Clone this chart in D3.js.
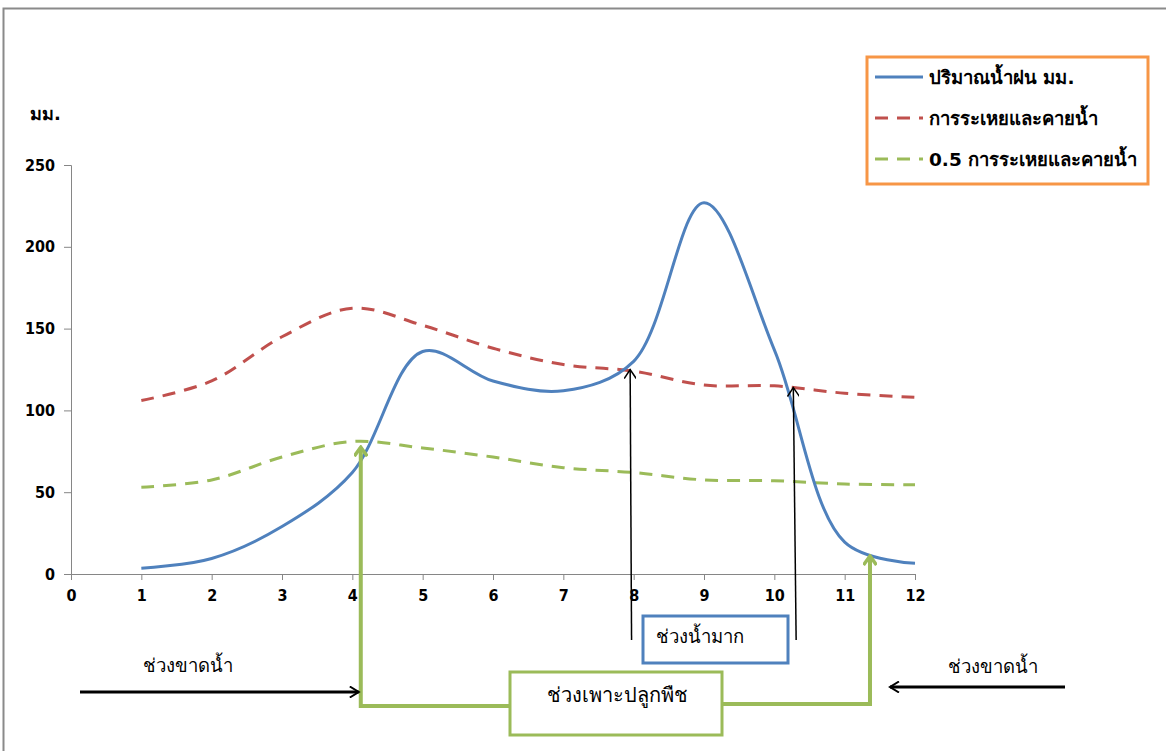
<!DOCTYPE html>
<html>
<head>
<meta charset="utf-8">
<script src="https://cdn.jsdelivr.net/npm/d3@7"></script>
<style>
  body { margin: 0; background: #fff; }
  svg { display: block; font-family: Tahoma, "DejaVu Sans", "Noto Sans", sans-serif; }
  .tick text { font-family: "DejaVu Sans Condensed", "DejaVu Sans", sans-serif; font-size: 16px; font-weight: bold; }
</style>
</head>
<body>
<svg id="chart" width="1166" height="751"></svg>
<script>
// months 1..12
const months = [1, 2, 3, 4, 5, 6, 7, 8, 9, 10, 11, 12];
const rain = [3.5, 9.5, 29, 62, 136, 118, 112, 130, 227, 137, 19.5, 6.5];
const evapo = [106, 118, 145, 162.5, 152, 138, 128, 124, 115.5, 115, 110.5, 108];
const halfEvapo = [53, 57.5, 71.5, 81, 77, 71.5, 65, 62, 57.5, 57, 55, 54.5];
const xTicks = [0, 1, 2, 3, 4, 5, 6, 7, 8, 9, 10, 11, 12];
const yTicks = [0, 50, 100, 150, 200, 250];
const seriesNames = ['ปริมาณน้ำฝน มม.', 'การระเหยและคายน้ำ', '0.5 การระเหยและคายน้ำ'];

const svg = d3.select('#chart');

const x = d3.scaleLinear().domain([0, 12]).range([71, 915]);
const y = d3.scaleLinear().domain([0, 250]).range([574, 165]);

// outer frame
svg.append('rect')
    .attr('x', 3.5).attr('y', 8.5)
    .attr('width', 1200).attr('height', 800)
    .attr('fill', 'none')
    .attr('stroke', '#8a8a8a')
    .attr('stroke-width', 2);

const defs = svg.append('defs');
defs.append('marker')
    .attr('id', 'headBlack')
    .attr('viewBox', '-10 -6 12 12')
    .attr('refX', 0).attr('refY', 0)
    .attr('markerWidth', 12).attr('markerHeight', 12)
    .attr('markerUnits', 'userSpaceOnUse')
    .attr('orient', 'auto')
    .append('path')
    .attr('d', 'M-9,-5.5 L0,0 L-9,5.5')
    .attr('fill', 'none').attr('stroke', '#000').attr('stroke-width', 2);
defs.append('marker')
    .attr('id', 'headThin')
    .attr('viewBox', '-10 -6 12 12')
    .attr('refX', 0).attr('refY', 0)
    .attr('markerWidth', 12).attr('markerHeight', 12)
    .attr('markerUnits', 'userSpaceOnUse')
    .attr('orient', 'auto')
    .append('path')
    .attr('d', 'M-9,-6 L0,0 L-9,6')
    .attr('fill', 'none').attr('stroke', '#000').attr('stroke-width', 1.5);
defs.append('marker')
    .attr('id', 'headGreen')
    .attr('viewBox', '-10 -7 12 14')
    .attr('refX', 0).attr('refY', 0)
    .attr('markerWidth', 12).attr('markerHeight', 14)
    .attr('markerUnits', 'userSpaceOnUse')
    .attr('orient', 'auto')
    .append('path')
    .attr('d', 'M-9,-6.5 L0,0 L-9,6.5')
    .attr('fill', 'none').attr('stroke', '#9BBB59').attr('stroke-width', 3.5);

// axes
const yAxis = d3.axisLeft(y).tickValues(yTicks).tickSize(7).tickPadding(9);
const gy = svg.append('g').attr('transform', `translate(${x(0)},0)`).call(yAxis);
const xAxis = d3.axisBottom(x).tickValues(xTicks).tickSize(6).tickPadding(10);
const gx = svg.append('g').attr('transform', `translate(0,${y(0)})`).call(xAxis);
[gx, gy].forEach(g => {
    g.attr('font-size', null).attr('font-family', null);
    g.select('.domain').attr('stroke', '#868686');
    g.selectAll('.tick line').attr('stroke', '#868686');
    g.selectAll('.tick text').attr('fill', '#000');
});

svg.append('text')
    .attr('x', 30).attr('y', 120)
    .style('font-size', '18px').style('font-weight', 'bold')
    .text('มม.');

// lines
const line = d3.line()
    .x((d, i) => x(months[i]))
    .y(d => y(d))
    .curve(d3.curveCatmullRom.alpha(0.5));

svg.append('path').datum(evapo)
    .attr('d', line).attr('fill', 'none')
    .attr('stroke', '#C0504D').attr('stroke-width', 3)
    .attr('stroke-dasharray', '13,9');
svg.append('path').datum(halfEvapo)
    .attr('d', line).attr('fill', 'none')
    .attr('stroke', '#9BBB59').attr('stroke-width', 3)
    .attr('stroke-dasharray', '13,9');
svg.append('path').datum(rain)
    .attr('d', line).attr('fill', 'none')
    .attr('stroke', '#4F81BD').attr('stroke-width', 3);

// legend
const legend = svg.append('g');
legend.append('rect')
    .attr('x', 867).attr('y', 57)
    .attr('width', 281).attr('height', 127)
    .attr('fill', '#fff').attr('stroke', '#F79646').attr('stroke-width', 3);
const legendItems = [
    {name: seriesNames[0], color: '#4F81BD', dash: null},
    {name: seriesNames[1], color: '#C0504D', dash: '13,9'},
    {name: seriesNames[2], color: '#9BBB59', dash: '13,9'}
];
legendItems.forEach((d, i) => {
    const ly = 77 + i * 41;
    legend.append('line')
        .attr('x1', 875).attr('x2', 923)
        .attr('y1', ly).attr('y2', ly)
        .attr('stroke', d.color).attr('stroke-width', 3)
        .attr('stroke-dasharray', d.dash);
    legend.append('text')
        .attr('x', 929).attr('y', ly + 7)
        .style('font-size', '18.5px').style('font-weight', 'bold')
        .text(d.name);
});

// thin black arrows marking the wet period
const wet = [{mx: 7.95, v: 125, xb: 7.97}, {mx: 10.27, v: 114, xb: 10.31}];
svg.selectAll('.wet-arrow')
    .data(wet)
    .enter()
    .append('line')
    .classed('wet-arrow', true)
    .attr('x1', d => x(d.xb)).attr('y1', 640)
    .attr('x2', d => x(d.mx)).attr('y2', d => y(d.v))
    .attr('stroke', '#000').attr('stroke-width', 1.5)
    .attr('marker-end', 'url(#headThin)');

// planting period bracket
const gL = x(4.12), gR = x(11.36);
svg.append('path')
    .attr('d', `M510,706 L${gL},706 L${gL},${y(77.5)}`)
    .attr('fill', 'none').attr('stroke', '#9BBB59').attr('stroke-width', 4)
    .attr('marker-end', 'url(#headGreen)');
svg.append('path')
    .attr('d', `M722,704 L${gR},704 L${gR},${y(11)}`)
    .attr('fill', 'none').attr('stroke', '#9BBB59').attr('stroke-width', 4)
    .attr('marker-end', 'url(#headGreen)');

svg.append('rect')
    .attr('x', 510).attr('y', 672).attr('width', 212).attr('height', 63)
    .attr('fill', '#fff').attr('stroke', '#9BBB59').attr('stroke-width', 3);
svg.append('text')
    .attr('x', 617).attr('y', 702).attr('text-anchor', 'middle')
    .style('font-size', '20px')
    .text('ช่วงเพาะปลูกพืช');

svg.append('rect')
    .attr('x', 643).attr('y', 616).attr('width', 145).attr('height', 47)
    .attr('fill', '#fff').attr('stroke', '#4F81BD').attr('stroke-width', 3);
svg.append('text')
    .attr('x', 700).attr('y', 643).attr('text-anchor', 'middle')
    .style('font-size', '18.5px')
    .text('ช่วงน้ำมาก');

// dry periods
svg.append('line')
    .attr('x1', 80).attr('x2', gL - 2).attr('y1', 692).attr('y2', 692)
    .attr('stroke', '#000').attr('stroke-width', 3)
    .attr('marker-end', 'url(#headBlack)');
svg.append('line')
    .attr('x1', 1065).attr('x2', gR + 20).attr('y1', 687).attr('y2', 687)
    .attr('stroke', '#000').attr('stroke-width', 3)
    .attr('marker-end', 'url(#headBlack)');
svg.append('text')
    .attr('x', 188).attr('y', 672).attr('text-anchor', 'middle')
    .style('font-size', '18.5px')
    .text('ช่วงขาดน้ำ');
svg.append('text')
    .attr('x', 993).attr('y', 673).attr('text-anchor', 'middle')
    .style('font-size', '18.5px')
    .text('ช่วงขาดน้ำ');
</script>
</body>
</html>
